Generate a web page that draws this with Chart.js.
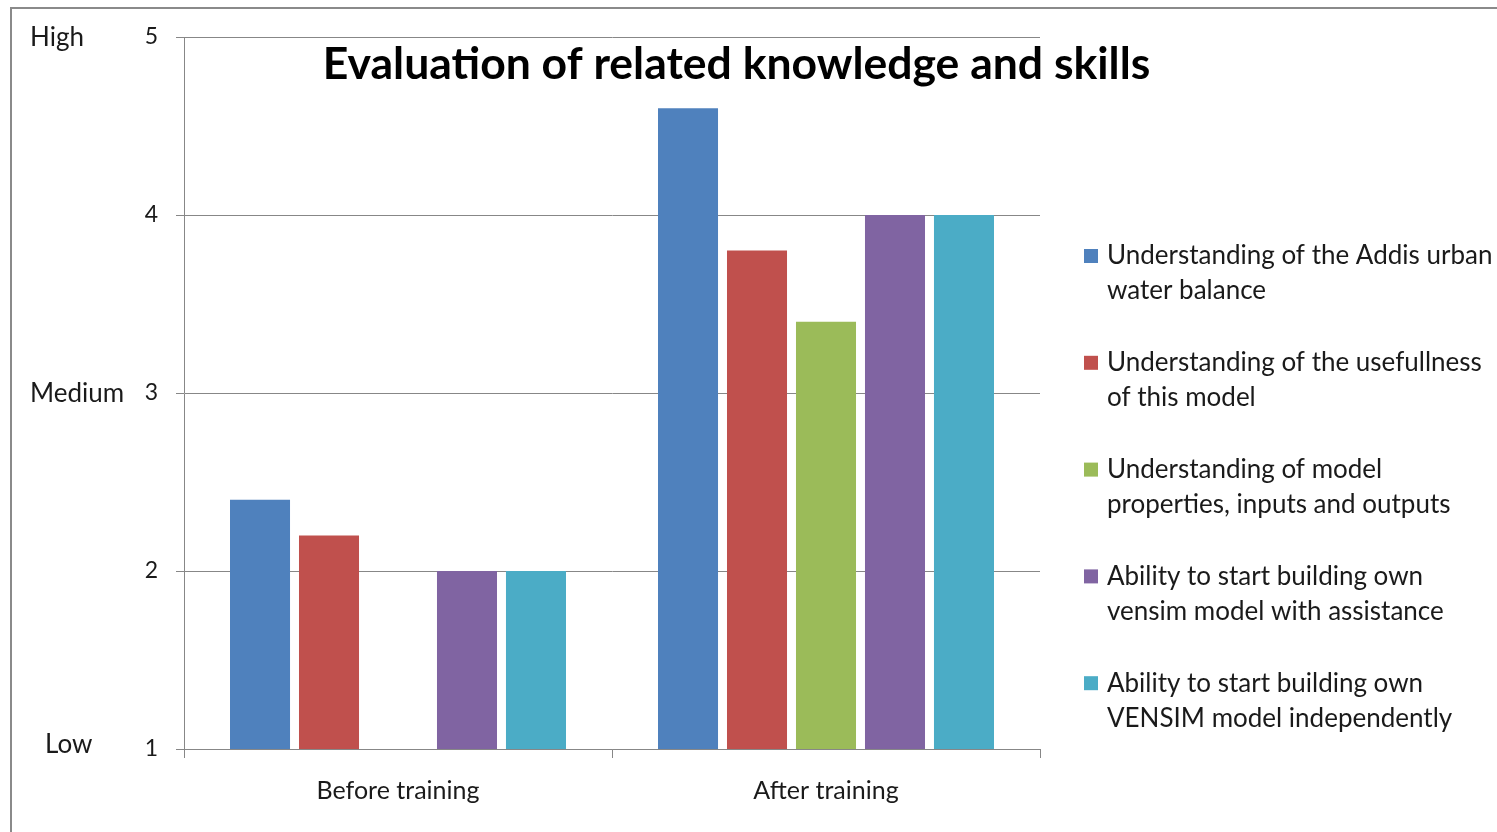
<!DOCTYPE html>
<html>
<head>
<meta charset="utf-8">
<script src="https://cdn.jsdelivr.net/npm/chart.js@4.4.0/dist/chart.umd.min.js"></script>
<style>
html,body{margin:0;padding:0;background:#fff;overflow:hidden}
#wrap{position:relative;width:1497px;height:832px}
#marco{position:absolute;left:10px;top:7px;width:1600px;height:900px;border:2px solid #8a8a8a}
canvas{position:absolute;left:0;top:0}
</style>
</head>
<body>
<div id="wrap"><div id="marco"></div><canvas id="grafica" width="1497" height="832"></canvas></div>
<script>
// datos
const categorias = ['Before training', 'After training']
const addisBalance = [2.4, 4.6]
const utilidadModelo = [2.2, 3.8]
const propiedadesModelo = [null, 3.4]
const vensimAsistido = [2.0, 4.0]
const vensimSolo = [2.0, 4.0]
const nombresSeries = [
  ['Understanding of the Addis urban', 'water balance'],
  ['Understanding of the usefullness', 'of this model'],
  ['Understanding of model', 'properties, inputs and outputs'],
  ['Ability to start building own', 'vensim model with assistance'],
  ['Ability to start building own', 'VENSIM model independently']
]
const colores = ['#4F81BD', '#C0504D', '#9BBB59', '#8064A2', '#4BACC6']
const ticksY = [1, 2, 3, 4, 5]
const nivelesTexto = ['Low', 'Medium', 'High']
const nivelesValor = [1, 3, 5]
const titulo = 'Evaluation of related knowledge and skills'

const fuente = 'Lato, "Open Sans", sans-serif'
const gris = '#878787'

const series = [addisBalance, utilidadModelo, propiedadesModelo, vensimAsistido, vensimSolo]

const extras = {
  id: 'extras',
  afterDraw(chart) {
    const ctx = chart.ctx
    const area = chart.chartArea
    const y = chart.scales.y
    ctx.save()
    // rotulos High / Medium / Low
    ctx.fillStyle = '#1a1a1a'
    ctx.font = '26px ' + fuente
    ctx.textAlign = 'left'
    ctx.textBaseline = 'middle'
    nivelesTexto.forEach((t, i) => {
      var px = i == 0 ? 45 : 30
      ctx.fillText(t, px, y.getPixelForValue(nivelesValor[i]) + (i == 0 ? -4 : 1))
    })
    // titulo
    ctx.font = 'bold 44.5px ' + fuente
    ctx.textAlign = 'center'
    ctx.fillStyle = '#000'
    ctx.fillText(titulo, chart.width / 2 - 12, 65)
    // leyenda
    ctx.font = '26px ' + fuente
    ctx.textAlign = 'left'
    const lx = area.right + 44
    chart.data.datasets.forEach((ds, i) => {
      const cy = 256 + i * 106.8
      ctx.fillStyle = ds.backgroundColor
      ctx.fillRect(lx, cy - 7, 14, 14)
      ctx.fillStyle = '#1a1a1a'
      nombresSeries[i].forEach((linea, j) => {
        ctx.fillText(linea, lx + 23, cy + j * 35)
      })
    })
    ctx.restore()
  }
}

const graf = document.getElementById('grafica').getContext('2d')
const chart = new Chart(graf, {
  type: 'bar',
  data: {
    labels: categorias,
    datasets: series.map((s, i) => ({
      label: nombresSeries[i].join(' '),
      data: s,
      backgroundColor: colores[i],
      categoryPercentage: 0.806,
      barPercentage: 0.87
    }))
  },
  options: {
    responsive: false,
    animation: false,
    layout: { padding: { left: 0, right: 457, top: 37, bottom: 0 } },
    plugins: {
      legend: { display: false },
      title: { display: false },
      tooltip: { enabled: false }
    },
    scales: {
      y: {
        min: 1,
        max: 5,
        afterFit: (s) => { s.width = 184 },
        afterBuildTicks: (s) => { s.ticks = ticksY.map(v => ({ value: v })) },
        grid: { color: gris, tickLength: 8, lineWidth: 1 },
        border: { color: gris },
        ticks: { font: { size: 23, family: fuente }, color: '#1a1a1a', padding: 18 }
      },
      x: {
        afterFit: (s) => { s.height = 83 },
        grid: { drawOnChartArea: false, color: gris, tickLength: 9, offset: true },
        border: { color: gris },
        ticks: { font: { size: 25, family: fuente }, color: '#1a1a1a', padding: 18 }
      }
    }
  },
  plugins: [extras]
})
</script>
</body>
</html>
